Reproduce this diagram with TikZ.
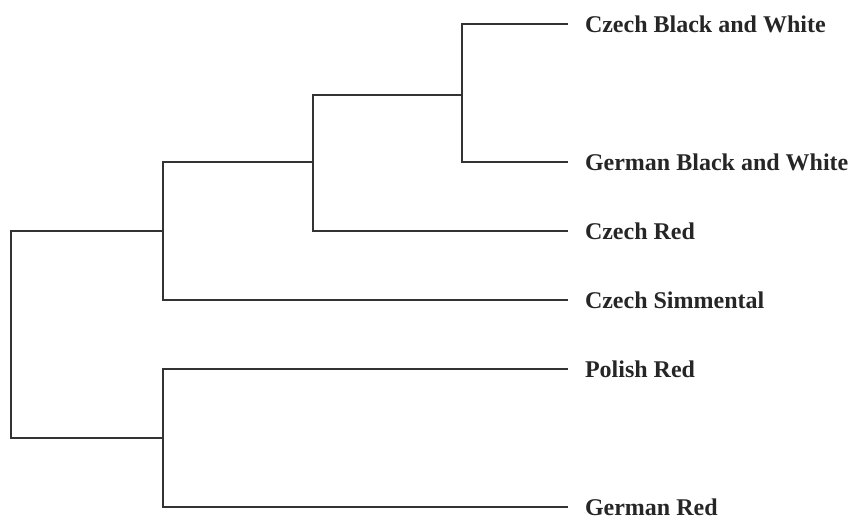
\documentclass[tikz,border=0pt]{standalone}
\usepackage{fontspec}
\setmainfont{Liberation Serif}
\usetikzlibrary{positioning}

\begin{document}
\begin{tikzpicture}[x=1pt, y=-1pt, leaf/.style = {anchor = west, inner sep = 0pt, outer xsep = 17pt, text = black!85, font = \fontsize{24}{28}\selectfont\bfseries}, br/.style = {line width = 1.4pt, draw = black!80}]
      \useasboundingbox (0, 0) rectangle (856, 523);
      \node [leaf] (cbw) at (568, 24) {Czech Black and White};
      \node [leaf] (gbw) at (568, 162) {German Black and White};
      \node [leaf] (cr) at (568, 231) {Czech Red};
      \node [leaf] (cs) at (568, 300) {Czech Simmental};
      \node [leaf] (pr) at (568, 369) {Polish Red};
      \node [leaf] (gr) at (568, 507) {German Red};

      % joins of the tree
      \coordinate (j1) at (462, 95);
      \coordinate (j2) at (313, 162);
      \coordinate (j3) at (163, 231);
      \coordinate (j4) at (163, 438);
      \coordinate (r) at (11, 335);

      \draw [br] (j1) |- (cbw);
      \draw [br] (j1) |- (gbw);
      \draw [br] (j2) |- (j1);
      \draw [br] (j2) |- (cr);
      \draw [br] (j3) |- (j2);
      \draw [br] (j3) |- (cs);
      \draw [br] (j4) |- (pr);
      \draw [br] (j4) |- (gr);
      \draw [br] (r) |- (j3);
      \draw [br] (r) |- (j4);
    \end{tikzpicture}
\end{document}
